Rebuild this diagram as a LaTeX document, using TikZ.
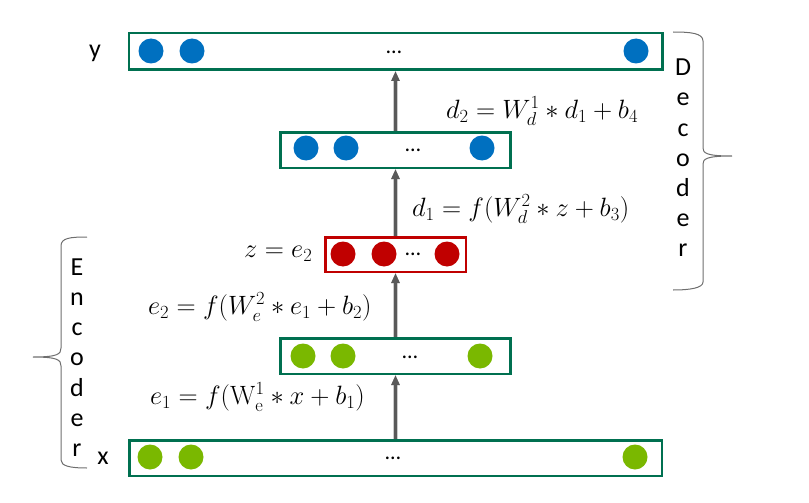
\RequirePackage{fix-cm}
\documentclass[tikz,border=0pt]{standalone}
\usepackage{amsmath, amssymb}
\usepackage[no-math]{fontspec}
\setmainfont{Carlito}
\usepackage{tikz}
\usetikzlibrary{arrows.meta}

\definecolor{boxgreen}{RGB}{0,112,80}
\definecolor{boxred}{RGB}{192,0,0}
\definecolor{unitblue}{RGB}{0,112,192}
\definecolor{unitgreen}{RGB}{122,184,0}
\definecolor{unitred}{RGB}{192,0,0}
\definecolor{bracegray}{RGB}{110,110,110}

\begin{document}
\begin{tikzpicture}[x=1pt, y=-1pt,
  layer/.style={draw=boxgreen, line width=2.5pt, fill=white, inner sep=0pt, minimum height=35.5pt},
  unit/.style={circle, inner sep=0pt, minimum size=25pt},
  dotsym/.style={inner sep=0pt, font=\fontsize{22}{22}\selectfont},
  flow/.style={-{Triangle[length=10pt,width=8pt]}, line width=2.5pt, draw=gray!70!black,
    preaction={draw=gray!40, line width=5pt}},
  letter/.style={anchor=base, inner sep=0pt, font=\fontsize{26}{26}\selectfont},
  eqn/.style={anchor=west, inner sep=0pt, font=\fontsize{26.5}{31}\selectfont},
  brace/.style={draw=bracegray, line width=1pt}]
  \useasboundingbox (0,0) rectangle (809,503);

  % Output Layer
  \node[layer, minimum width=533.5pt, minimum height=36.5pt] (ybox) at (395.5,51.5) {};
  \node[unit, fill=unitblue] (y1) at (151,51) {};
  \node[unit, fill=unitblue] (y2) at (192,51) {};
  \node[unit, fill=unitblue] (yn) at (636,51) {};
  \node[dotsym] (ydots) at (394,52) {…};
  \node[letter] (ylab) at (95,58) {y};

  % Decoder Layer
  \node[layer, minimum width=230pt] (dbox) at (395.5,150) {};
  \node[unit, fill=unitblue] (d1) at (306,148) {};
  \node[unit, fill=unitblue] (d2) at (346,148) {};
  \node[unit, fill=unitblue] (dn) at (482,148) {};
  \node[dotsym] (ddots) at (413,150) {…};

  % Code Layer
  \node[layer, draw=boxred, minimum width=140.5pt, minimum height=34.5pt] (zbox) at (395.5,254.5) {};
  \node[unit, fill=unitred] (z1) at (343,254) {};
  \node[unit, fill=unitred] (z2) at (384,254) {};
  \node[unit, fill=unitred] (zn) at (447,254) {};
  \node[dotsym] (zdots) at (413,254) {…};

  % Encoder Layer
  \node[layer, minimum width=230pt] (ebox) at (395.5,356) {};
  \node[unit, fill=unitgreen] (e1) at (303,356) {};
  \node[unit, fill=unitgreen] (e2) at (343,356) {};
  \node[unit, fill=unitgreen] (en) at (480,356) {};
  \node[dotsym] (edots) at (410,357) {…};

  % Input Layer
  \node[layer, minimum width=532.5pt] (xbox) at (395.5,458) {};
  \node[unit, fill=unitgreen] (x1) at (150,457) {};
  \node[unit, fill=unitgreen] (x2) at (191,457) {};
  \node[unit, fill=unitgreen] (xn) at (635,457) {};
  \node[dotsym] (xdots) at (393,458) {…};
  \node[letter] (xlab) at (103,464) {x};

  % Arrows
  \draw[flow] (xbox.north) -- (ebox.south);
  \draw[flow] (ebox.north) -- (zbox.south);
  \draw[flow] (zbox.north) -- (dbox.south);
  \draw[flow] (dbox.north) -- (ybox.south);

  % Equations
  \node[eqn] (d2eq) at (446,111) {$d_2 = W_d^1 * d_1 + b_4$};
  \node[eqn] (d1eq) at (412,209) {$d_1 = f(W_d^2 * z + b_3)$};
  \node[eqn] (zeq) at (244,254) {$z = e_2$};
  \node[eqn] (e2eq) at (148,307) {$e_2 = f(W_e^2 * e_1 + b_2)$};
  \node[eqn] (e1eq) at (150,397) {$e_1 = f(\mathrm{W}_\mathrm{e}^1 * x + b_1)$};

  % Braces
  \draw[brace] (673,32) .. controls (690,32) and (703,33) .. (703,41) -- (703,148)
    .. controls (703,153) and (706,156) .. (732,156)
    .. controls (706,156) and (703,159) .. (703,164) -- (703,282)
    .. controls (703,288) and (690,290) .. (673,290);
  \draw[brace] (87,237) .. controls (70,237) and (61,238) .. (61,246) -- (61,348)
    .. controls (61,354) and (58,357) .. (33,357)
    .. controls (58,357) and (61,360) .. (61,366) -- (61,460)
    .. controls (61,466) and (70,468) .. (87,468);

  % Brace labels
  \foreach \ch [count=\i from 0] in {D,e,c,o,d,e,r}
    \node[letter] (dec\i) at (683,76+30*\i) {\ch};
  \foreach \ch [count=\i from 0] in {E,n,c,o,d,e,r}
    \node[letter] (enc\i) at (77,275+30.3*\i) {\ch};
\end{tikzpicture}
\end{document}
